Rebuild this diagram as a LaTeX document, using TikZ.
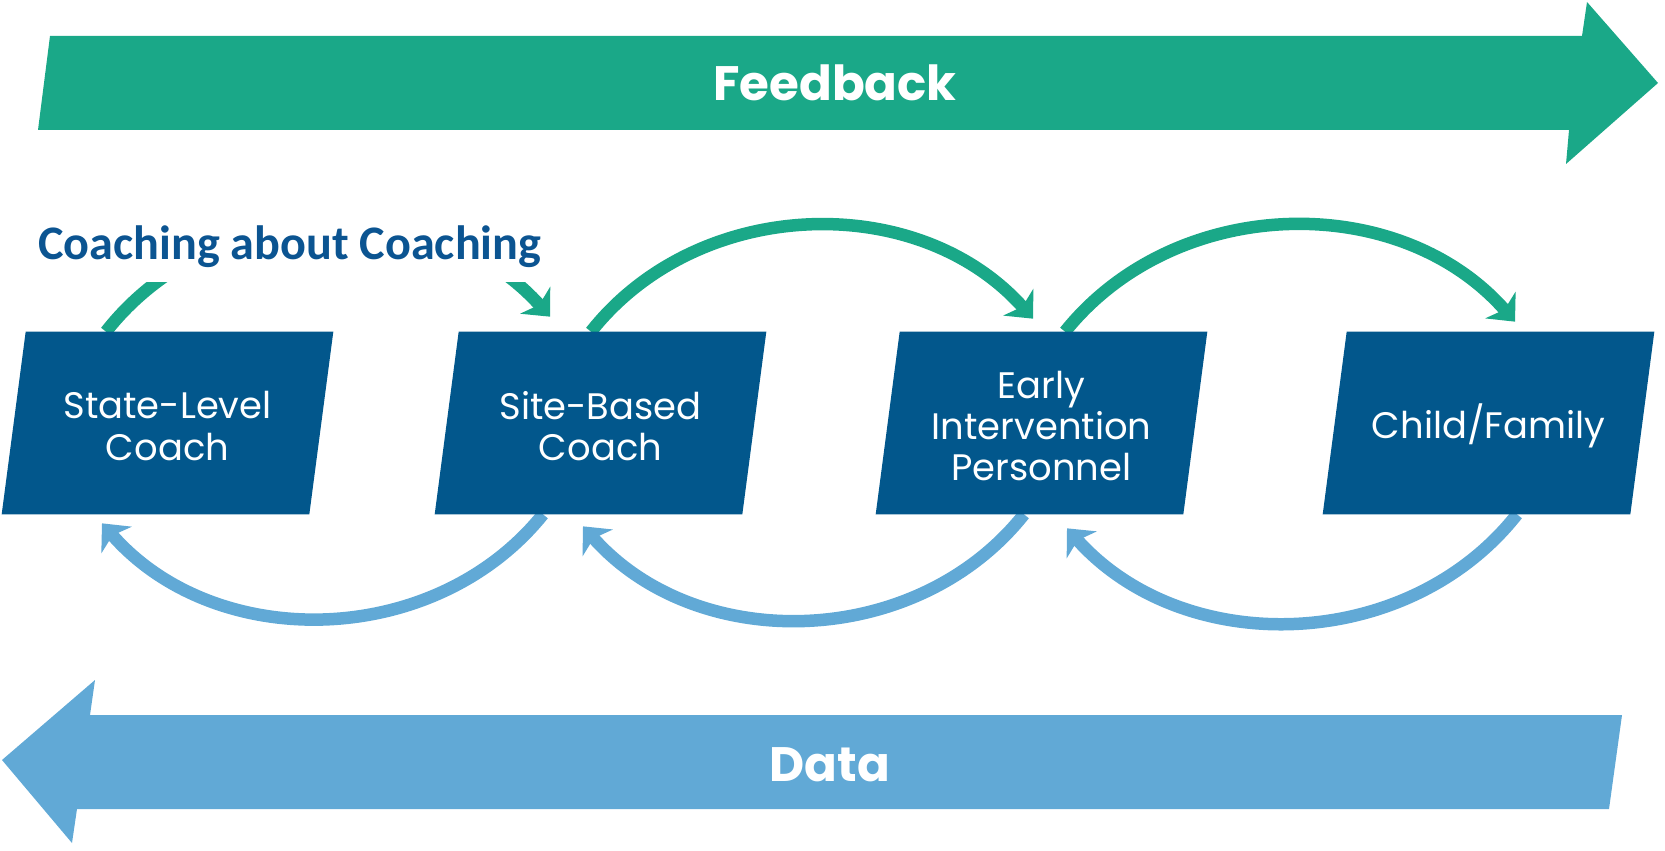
\documentclass[tikz,border=0pt]{standalone}
\usepackage{fontspec}
\newfontfamily\gothicfont{Poppins}
\newfontfamily\calibrifont{Carlito}
\usetikzlibrary{arrows.meta,backgrounds}
\definecolor{boxblue}{RGB}{2,87,140}
\definecolor{fbgreen}{RGB}{26,168,136}
\definecolor{datablue}{RGB}{97,169,214}
\definecolor{titleblue}{RGB}{11,84,145}

\begin{document}
\begin{tikzpicture}[x=0.02cm,y=0.02cm,
    coachbox/.style={rectangle,minimum width=6.14cm,minimum height=3.64cm,inner sep=0pt,
        align=center,text=white,font=\gothicfont\fontsize{21}{23.6}\selectfont},
    bandlabel/.style={anchor=base,text=white,font=\gothicfont\bfseries\fontsize{27.5}{31}\selectfont},
    fbarc/.style={line width=0.25cm,fbgreen,bend left=50,
        -{Stealth[length=0.44cm,width=0.8cm,inset=0.12cm]}},
    dataarc/.style={fbarc,datablue}]
  \useasboundingbox (0,0) rectangle (1665,850);
  % feedback band
  \fill[fbgreen] (50,814) -- (1582,814) -- (1587,848) -- (1658,767) -- (1566,686)
      -- (1569,720) -- (38,720) -- cycle;
  \node[bandlabel] (fb) at (835,749) {Feedback};
  % data band
  \fill[datablue] (2,90) -- (95,170) -- (90,135) -- (1622,135) -- (1609,41)
      -- (77,41) -- (72,7) -- cycle;
  \node[bandlabel] (data) at (830,69) {Data};

  \node[coachbox] (sl) at (167.5,424) {State-Level\\Coach};
  \node[coachbox] (sb) at (600.5,424) {Site-Based\\Coach};
  \node[coachbox] (ei) at (1041.5,424) {Early\\Intervention\\Personnel};
  \node[coachbox] (cf) at (1488.5,424) {Child/Family};

  \begin{pgfonlayer}{background}
    % feedback loops
    \draw[fbarc] ([shift={(-61.5,3)}]sl.north) to ([shift={(-50.5,18)}]sb.north);
    \draw[fbarc] ([shift={(-9.5,3)}]sb.north) to ([shift={(-8.5,16)}]ei.north);
    \draw[fbarc] ([shift={(23.5,3)}]ei.north) to ([shift={(26.5,13)}]cf.north);
    % data loops
    \draw[dataarc] ([shift={(-57.5,3)}]sb.south) to ([shift={(-65.5,-6)}]sl.south);
    \draw[dataarc] ([shift={(-17.5,3)}]ei.south) to ([shift={(-17.5,-9)}]sb.south);
    \draw[dataarc] ([shift={(28.5,3)}]cf.south) to ([shift={(25.5,-11)}]ei.south);
    \foreach \n in {sl,sb,ei,cf}
      \fill[boxblue] ([shift={(12,3)}]\n.north west) -- ([shift={(12,3)}]\n.north east)
          -- ([shift={(-12,3)}]\n.south east) -- ([shift={(-12,3)}]\n.south west) -- cycle;
  \end{pgfonlayer}

  \node[anchor=base west,fill=white,inner sep=0pt,text height=1.18cm,text depth=0.46cm,
      text=titleblue,font=\calibrifont\bfseries\fontsize{27.4}{30}\selectfont]
      (title) at (38,591) {Coaching about Coaching};
\end{tikzpicture}
\end{document}
